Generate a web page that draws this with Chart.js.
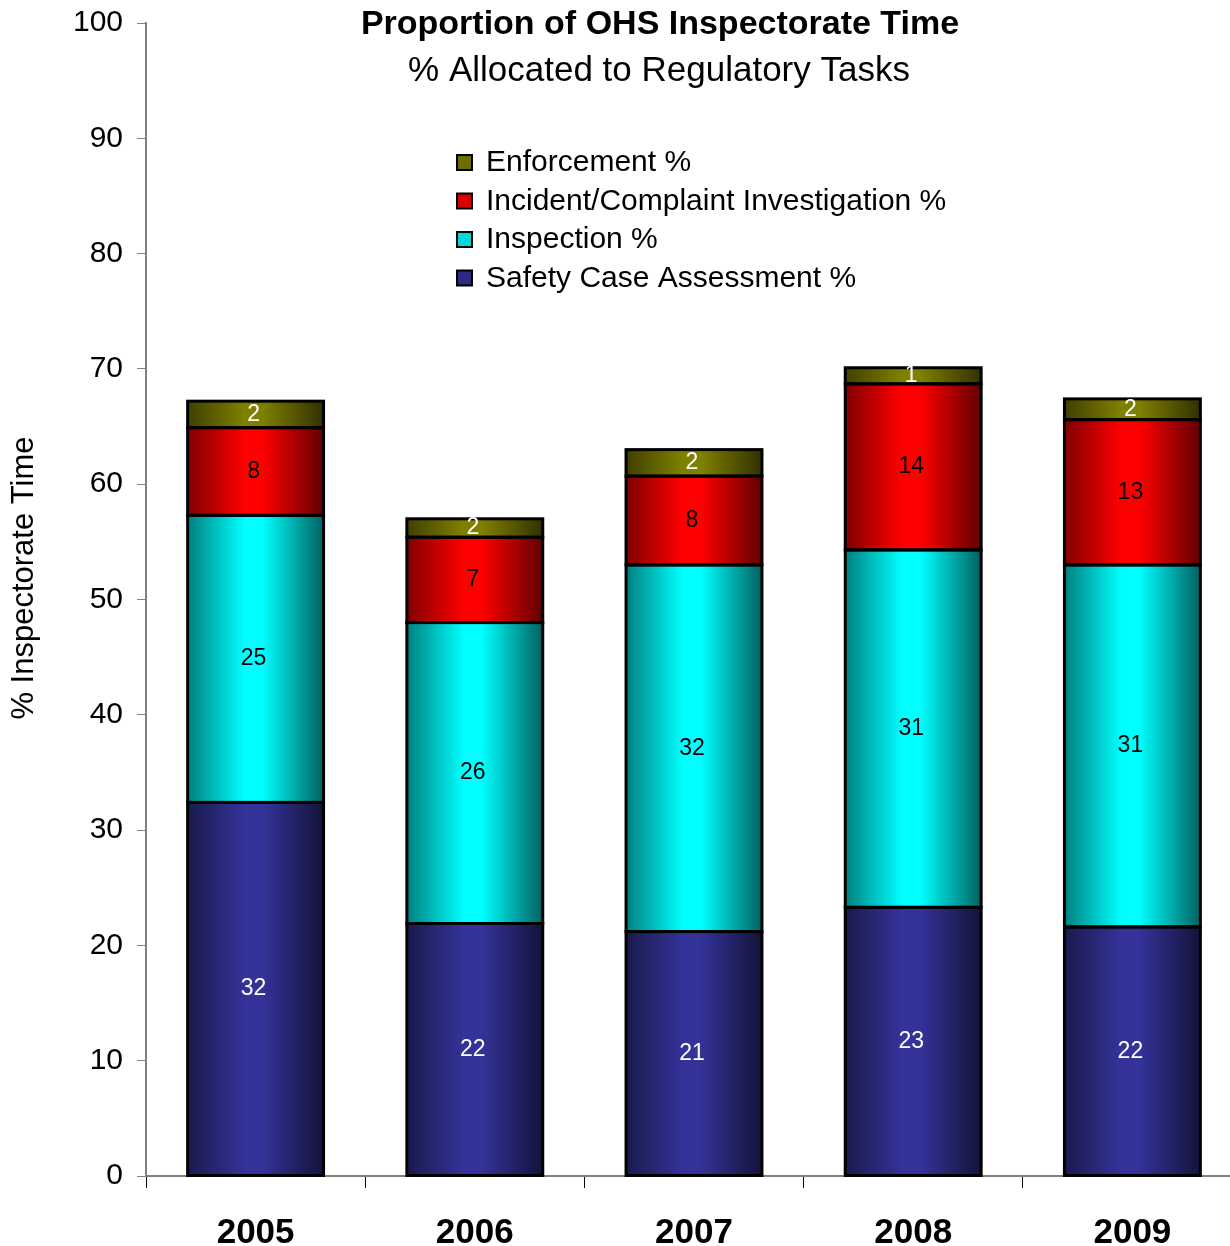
<!DOCTYPE html>
<html>
<head>
<meta charset="utf-8">
<script src="https://cdn.jsdelivr.net/npm/chart.js@4"></script>
<style>
  html, body { margin: 0; padding: 0; background: #fff; overflow: hidden; }
  #wrap { width: 1242px; height: 1246px; }
</style>
</head>
<body>
<div id="wrap"><canvas id="myChart"></canvas></div>
<script>
// Data
const years = ['2005', '2006', '2007', '2008', '2009'];
const safetyCase = [32.4, 21.9, 21.2, 23.3, 21.6];
const inspection = [24.9, 26.1, 31.8, 31.0, 31.4];
const incident = [7.6, 7.4, 7.7, 14.4, 12.6];
const enforcement = [2.3, 1.6, 2.3, 1.4, 1.8];
const yTicks = [0, 10, 20, 30, 40, 50, 60, 70, 80, 90, 100];

const FONT = "'Liberation Sans', Arial, sans-serif";
const BAR_PCT = 0.62;

// shade an rgb colour by factor
function shade(rgb, f) {
  return 'rgb(' + rgb.map(c => Math.round(c * f)).join(',') + ')';
}

// horizontal gradient across each bar, dark edges, bright middle
function barFill(rgb) {
  return function(ctx) {
    const chart = ctx.chart;
    const xs = chart.scales.x;
    if (!xs || ctx.dataIndex === undefined) return shade(rgb, 1);
    const cx = xs.getPixelForValue(ctx.dataIndex);
    const w = xs.width / years.length * BAR_PCT;
    if (!isFinite(cx) || !isFinite(w) || w <= 0) return shade(rgb, 1);
    const g = chart.ctx.createLinearGradient(cx - w / 2, 0, cx + w / 2, 0);
    g.addColorStop(0, shade(rgb, 0.5));
    g.addColorStop(0.42, shade(rgb, 1));
    g.addColorStop(0.55, shade(rgb, 1));
    g.addColorStop(1, shade(rgb, 0.38));
    return g;
  };
}

const series = [
  { label: 'Safety Case Assessment %', data: safetyCase, rgb: [51, 51, 153], txt: '#fff' },
  { label: 'Inspection %', data: inspection, rgb: [0, 255, 255], txt: '#000' },
  { label: 'Incident/Complaint Investigation %', data: incident, rgb: [255, 0, 0], txt: '#000' },
  { label: 'Enforcement %', data: enforcement, rgb: [128, 128, 0], txt: '#fff' }
];

// outlines, value labels, titles and the legend drawn on the canvas
const extras = {
  id: 'extras',
  afterDatasetsDraw(chart) {
    const c = chart.ctx;
    c.save();
    // black outline around every segment
    c.strokeStyle = '#000';
    c.lineWidth = 3;
    chart.data.datasets.forEach((ds, di) => {
      chart.getDatasetMeta(di).data.forEach(bar => {
        const top = Math.min(bar.y, bar.base);
        const h = Math.abs(bar.base - bar.y);
        c.strokeRect(bar.x - bar.width / 2, top, bar.width, h);
      });
    });
    c.font = '23px ' + FONT;
    c.textAlign = 'center';
    c.textBaseline = 'middle';
    chart.data.datasets.forEach((ds, di) => {
      const meta = chart.getDatasetMeta(di);
      meta.data.forEach((bar, i) => {
        const yc = (bar.y + bar.base) / 2;
        c.fillStyle = series[di].txt;
        c.fillText(String(Math.round(ds.data[i])), bar.x - 2, yc);
      });
    });
    c.restore();
  },
  afterDraw(chart) {
    const c = chart.ctx;
    c.save();
    c.fillStyle = '#000';
    c.textAlign = 'center';
    c.textBaseline = 'middle';
    c.font = 'bold 34px ' + FONT;
    c.fillText('Proportion of OHS Inspectorate Time', 660, 25);
    c.font = '35px ' + FONT;
    c.fillText('% Allocated to Regulatory Tasks', 659, 71);

    // y axis title
    c.save();
    c.translate(24, 578);
    c.rotate(-Math.PI / 2);
    c.font = '31px ' + FONT;
    c.fillText('% Inspectorate Time', 0, 0);
    c.restore();

    // legend, reversed order
    c.textAlign = 'left';
    c.font = '30px ' + FONT;
    const rows = series.slice().reverse();
    rows.forEach((s, i) => {
      const y = 163 + i * 38.5;
      c.fillStyle = shade(s.rgb, 0.85);
      c.fillRect(457, y - 8, 15, 15);
      c.lineWidth = 2;
      c.strokeStyle = '#000';
      c.strokeRect(457, y - 8, 15, 15);
      c.fillStyle = '#000';
      c.fillText(s.label, 486, y);
    });
    c.restore();
  }
};

let ctx = document.getElementById('myChart').getContext('2d');
window.chart = new Chart(ctx, {
  type: 'bar',
  data: {
    labels: years,
    datasets: series.map(s => ({
      label: s.label,
      data: s.data,
      backgroundColor: barFill(s.rgb),
      borderWidth: 0,
      barPercentage: BAR_PCT,
      categoryPercentage: 1
    }))
  },
  options: {
    animation: false,
    responsive: true,
    maintainAspectRatio: false,
    layout: { padding: { top: 23, right: 0, left: 0, bottom: 0 } },
    plugins: {
      legend: { display: false },
      tooltip: { enabled: false }
    },
    scales: {
      x: {
        stacked: true,
        afterFit: s => { s.height = 70; s.paddingLeft = 0; s.paddingRight = 0; },
        border: { color: '#808080', width: 2 },
        grid: { drawOnChartArea: false, color: '#000', tickLength: 12, offset: true },
        ticks: { color: '#000', font: { family: FONT, size: 35, weight: 'bold' }, padding: 24 }
      },
      y: {
        stacked: true,
        min: 0,
        max: 100,
        afterFit: s => { s.width = 146; s.paddingTop = 0; s.paddingBottom = 0; },
        afterBuildTicks: s => { s.ticks = yTicks.map(v => ({ value: v })); },
        border: { color: '#808080', width: 2 },
        grid: { drawOnChartArea: false, color: '#808080', tickLength: 9 },
        ticks: { color: '#000', font: { family: FONT, size: 30 }, padding: 14 }
      }
    }
  },
  plugins: [extras]
});
</script>
</body>
</html>
